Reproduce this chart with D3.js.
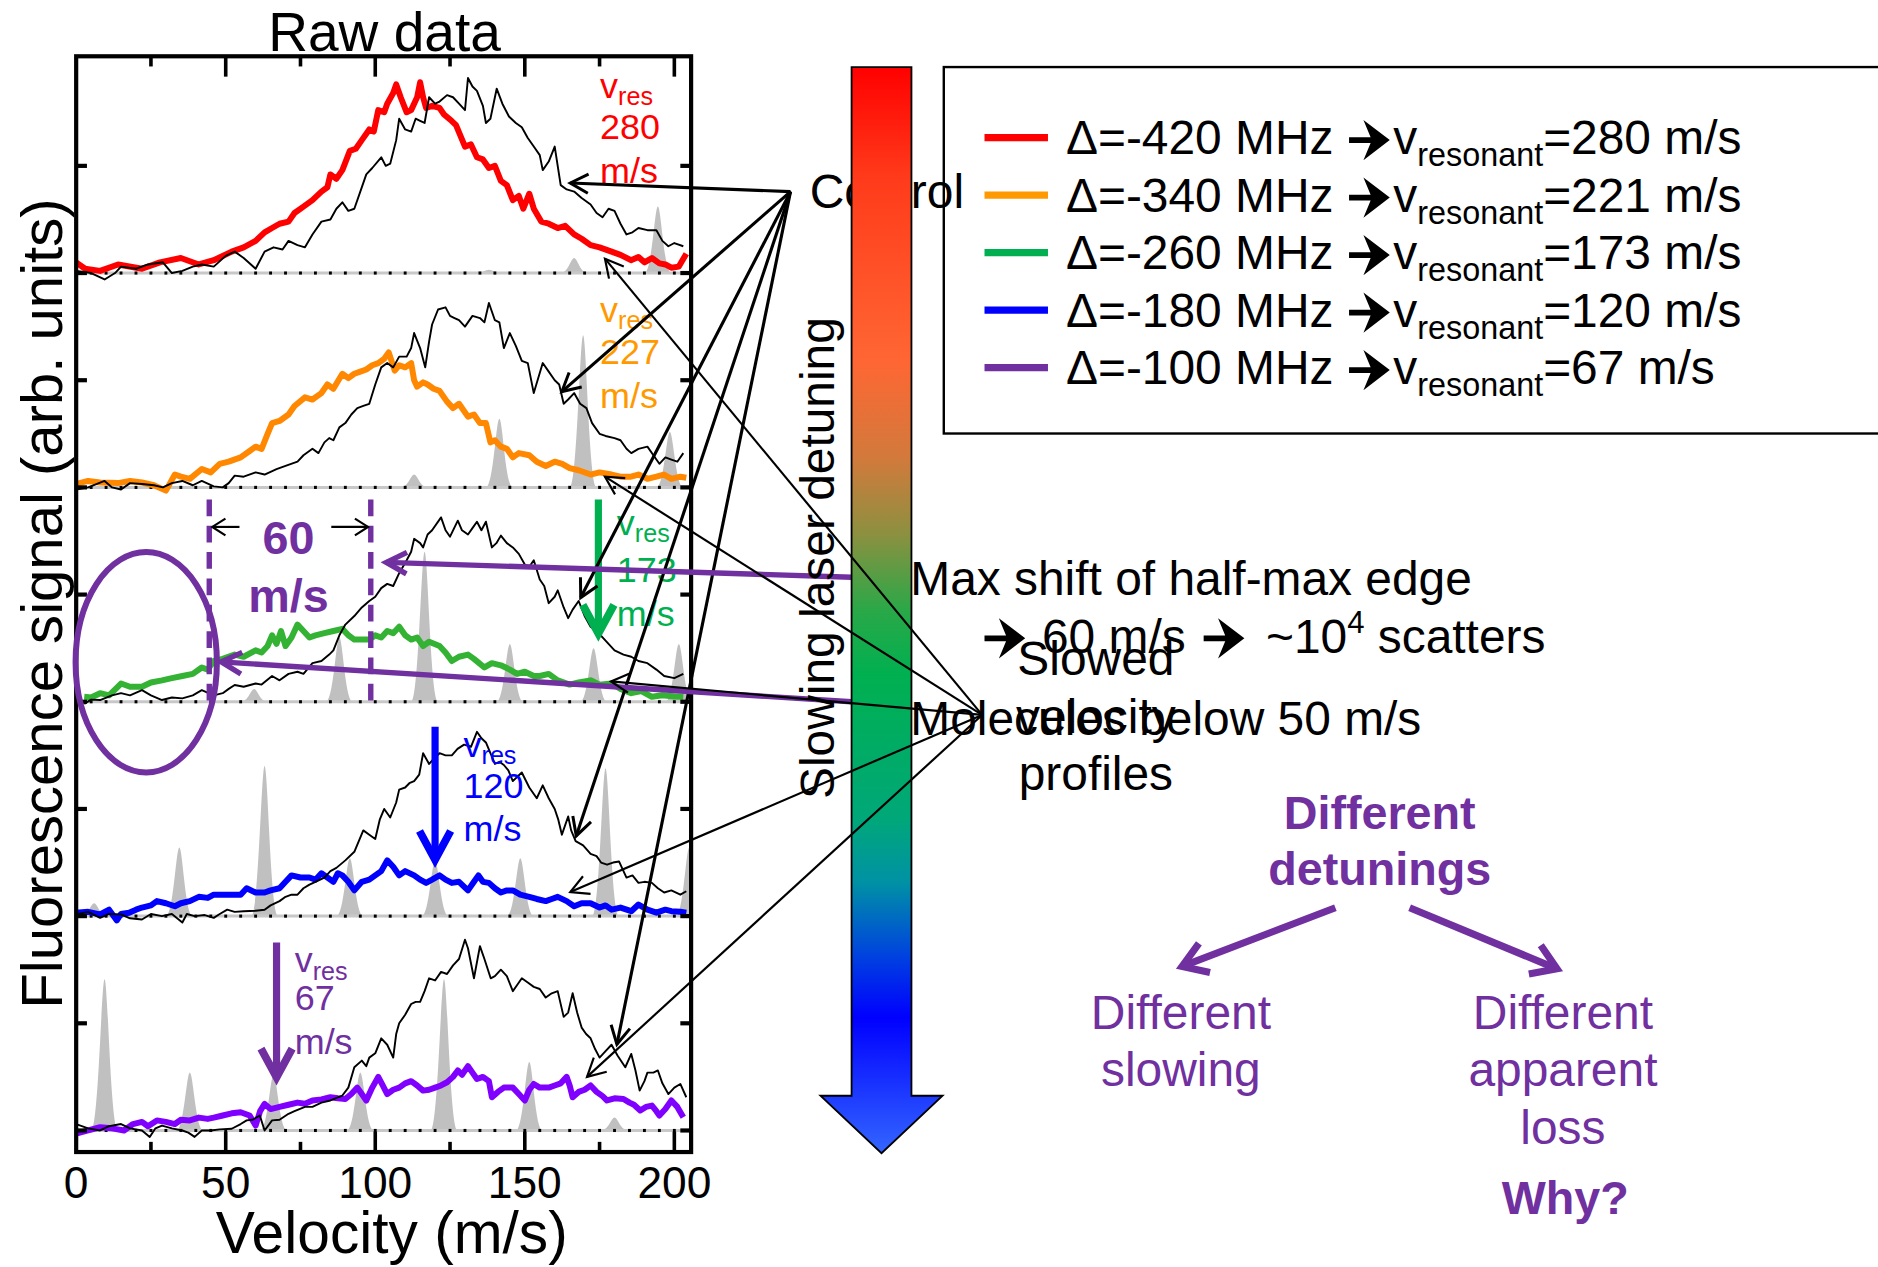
<!DOCTYPE html>
<html>
<head>
<meta charset="utf-8">
<script src="https://cdn.jsdelivr.net/npm/d3@7"></script>
<style>
  body { margin: 0; background: #fff; }
  svg { display: block; }
  text { font-family: "Liberation Sans", Arial, sans-serif; }
</style>
</head>
<body>
<div id="chart"></div>
<script>
// ---- data (velocity in m/s, signal as fraction of panel height) ----
const velTicks = [0, 50, 100, 150, 200];
const detunings = [-420, -340, -260, -180, -100];
const vResonant = [280, 221, 173, 120, 67];
const vResPanel = [280, 227, 173, 120, 67];

// slowed profiles (coloured) per panel
const slowed420 = [[0,0.05],[3,0.02],[8,0.01],[14,0.04],[22,0.02],[28,0.05],[35,0.07],[41,0.04],[46,0.06],[52,0.10],[56,0.12],[60,0.15],[63,0.19],[65.5,0.21],[68,0.23],[71,0.24],[73,0.28],[76,0.31],[79,0.34],[82,0.38],[84,0.40],[85,0.46],[87,0.44],[89,0.48],[91.5,0.57],[93.5,0.58],[95.5,0.62],[98,0.67],[99.5,0.66],[101,0.76],[103,0.75],[104,0.79],[106,0.84],[107,0.88],[108.5,0.82],[110.5,0.75],[112,0.76],[114,0.82],[115,0.89],[116,0.82],[117,0.77],[119,0.78],[121.5,0.77],[123,0.74],[125.5,0.71],[127,0.69],[128.5,0.64],[130,0.59],[132,0.60],[134,0.54],[136,0.53],[138,0.49],[140,0.50],[142,0.43],[144,0.41],[146,0.34],[148,0.36],[149.5,0.30],[151.5,0.37],[153,0.30],[155.5,0.24],[158,0.23],[161,0.21],[163.5,0.22],[166.5,0.18],[169,0.16],[172,0.13],[175,0.12],[179,0.10],[182,0.085],[185.5,0.06],[188,0.075],[190,0.05],[192.5,0.07],[195,0.045],[197,0.04],[199,0.025],[201.5,0.03],[204,0.09]];
const slowed340 = [[0,0.016],[4,0.03],[8,0.023],[14,0.02],[18,0.03],[22,0.023],[26,0.01],[30,-0.015],[33,0.06],[35,0.05],[38,0.04],[42,0.086],[45,0.07],[48,0.11],[51,0.12],[55,0.14],[58,0.17],[60,0.19],[62,0.18],[64,0.25],[65.5,0.30],[68,0.31],[71,0.34],[73,0.38],[76.5,0.42],[79,0.41],[82,0.44],[84,0.48],[86,0.46],[89,0.53],[91,0.51],[93,0.53],[95,0.54],[97,0.55],[99,0.57],[101,0.58],[103,0.60],[104.5,0.63],[106.5,0.545],[108,0.57],[110,0.56],[112,0.58],[113,0.50],[114,0.47],[116,0.49],[117.5,0.48],[119.5,0.46],[121.5,0.45],[124,0.40],[126,0.37],[128,0.39],[131,0.33],[133,0.34],[135,0.30],[137,0.30],[138.5,0.21],[140,0.22],[142,0.19],[144,0.18],[146,0.14],[148,0.16],[151.5,0.15],[154,0.12],[157,0.10],[160,0.12],[162.5,0.11],[165,0.09],[168,0.08],[172,0.06],[175,0.07],[179,0.06],[182,0.05],[185.5,0.05],[188,0.06],[191,0.04],[194,0.05],[196.5,0.06],[199,0.04],[202,0.05],[204,0.045]];
const slowed260 = [[2.7,0.023],[5,0.02],[8,0.04],[11,0.03],[15,0.085],[18,0.07],[22,0.07],[25,0.09],[28.7,0.10],[32,0.11],[35.5,0.12],[39,0.13],[42,0.16],[44,0.15],[46,0.19],[49,0.20],[53,0.22],[56,0.21],[60,0.24],[62,0.23],[64,0.26],[65.5,0.31],[67,0.27],[68.5,0.33],[70,0.26],[72,0.30],[74,0.36],[76,0.33],[78,0.30],[80,0.31],[83,0.32],[86,0.33],[89,0.34],[91,0.31],[93,0.29],[96,0.29],[98,0.29],[100,0.31],[102,0.30],[104,0.33],[106,0.32],[108,0.35],[110,0.31],[112,0.29],[114,0.30],[116,0.26],[118,0.28],[121.5,0.26],[123.5,0.23],[125.6,0.19],[128,0.21],[131,0.22],[133,0.20],[136.5,0.16],[139,0.18],[142,0.17],[145,0.15],[147.4,0.13],[150,0.14],[153,0.12],[155,0.12],[158,0.13],[161,0.10],[165,0.08],[168,0.09],[172,0.10],[175,0.08],[179,0.085],[182,0.06],[185.6,0.04],[189,0.05],[192.5,0.023],[196,0.03],[200,0.025],[203,0.023]];
const slowed180 = [[0,0.016],[4,0.02],[8,0.008],[11,0.03],[13.6,-0.02],[15,0.01],[17.7,0.016],[20,0.03],[22,0.04],[25,0.05],[27,0.07],[30,0.06],[33,0.046],[35,0.06],[38,0.07],[41,0.09],[44,0.085],[46,0.10],[49,0.10],[52,0.10],[55,0.10],[57,0.13],[60,0.11],[63,0.11],[65,0.12],[68,0.13],[70,0.16],[72,0.19],[75,0.18],[78,0.18],[80,0.17],[82,0.20],[84,0.18],[86,0.16],[87.5,0.20],[89,0.19],[91,0.16],[93,0.12],[95.5,0.16],[98,0.17],[100,0.19],[102,0.21],[104,0.26],[106,0.23],[108,0.19],[110,0.21],[113,0.19],[115,0.17],[117,0.155],[119,0.17],[121.5,0.19],[123.5,0.17],[125.6,0.155],[128,0.16],[131,0.12],[133,0.16],[134.5,0.19],[136,0.16],[138,0.155],[140,0.13],[142,0.11],[144,0.12],[146,0.12],[148.5,0.10],[151.5,0.09],[154,0.08],[157,0.07],[159,0.08],[161,0.09],[164,0.07],[166.5,0.046],[169,0.06],[172,0.06],[175,0.04],[177,0.05],[179,0.03],[182,0.04],[185.6,0.023],[188,0.054],[191,0.03],[194,0.016],[197,0.03],[199,0.023],[202,0.02],[204,0.016]];
const slowed100 = [[0,-0.015],[4,0.0],[8,0.015],[12,0.01],[16,0.0],[19,0.03],[22,0.04],[24,0.02],[27,0.047],[30,0.04],[33,0.03],[35,0.05],[38,0.047],[41,0.06],[44,0.054],[46,0.06],[49,0.07],[52,0.08],[55,0.085],[58,0.07],[60,0.023],[61.5,0.09],[63,0.124],[65,0.10],[68,0.11],[71,0.12],[74,0.13],[76.5,0.125],[79,0.14],[82,0.145],[85,0.155],[87.5,0.15],[90,0.147],[92,0.17],[94,0.20],[95.5,0.17],[97,0.14],[99,0.20],[101,0.25],[102.5,0.21],[104,0.17],[106,0.19],[108,0.20],[110,0.22],[112,0.23],[114,0.21],[116,0.186],[118,0.19],[120,0.20],[122,0.21],[124,0.225],[126,0.25],[127.6,0.28],[129,0.26],[131,0.30],[132.5,0.27],[134,0.24],[136,0.25],[138,0.23],[139,0.155],[141,0.18],[143,0.20],[146,0.20],[148,0.17],[150,0.14],[151.5,0.19],[153,0.217],[155,0.20],[158,0.20],[160,0.21],[162,0.22],[164,0.25],[165,0.21],[166,0.155],[168,0.18],[170,0.19],[172,0.21],[174,0.18],[176,0.16],[177.5,0.14],[180,0.15],[183,0.147],[185,0.13],[186.5,0.12],[188.6,0.093],[190.5,0.11],[192.5,0.116],[194,0.09],[195,0.07],[197,0.10],[199,0.14],[201,0.11],[203,0.062]];

// control profiles (thin black) per panel
const control1 = [[0,0.01],[5,0.0],[9.5,-0.03],[13,0.0],[15,0.03],[20,0.02],[24,0.04],[29,0.05],[32,0.0],[35.5,0.01],[39,0.03],[42,0.04],[46,0.03],[50,0.08],[53,0.10],[56,0.07],[60,0.02],[63,0.10],[66,0.12],[69,0.11],[71,0.15],[74,0.13],[76.5,0.12],[79,0.18],[82,0.24],[85,0.25],[87,0.30],[89,0.33],[91,0.29],[93,0.30],[95,0.38],[97,0.46],[99,0.49],[102,0.54],[103.5,0.50],[105,0.51],[107,0.62],[108,0.72],[110,0.67],[112,0.66],[113.5,0.72],[115,0.71],[116.5,0.70],[118,0.82],[120,0.79],[121.5,0.80],[124,0.83],[126,0.82],[128,0.79],[130,0.76],[131,0.91],[132.5,0.87],[134,0.85],[136,0.78],[137,0.70],[138.5,0.72],[140.6,0.86],[142.5,0.79],[144.7,0.73],[147,0.70],[149,0.68],[151,0.63],[153,0.59],[155,0.55],[156,0.48],[158,0.52],[160,0.59],[162,0.41],[164,0.39],[166.5,0.38],[169,0.35],[172,0.32],[174,0.28],[176,0.26],[178,0.30],[180,0.29],[182,0.23],[184,0.18],[186,0.19],[188,0.21],[191,0.20],[194,0.20],[196,0.15],[198,0.125],[200,0.14],[203,0.125]];
const control2 = [[0,-0.01],[4,0.0],[9.5,0.03],[12,0.0],[15,-0.01],[18,0.02],[22,0.016],[26,0.01],[29,0.0],[32,0.02],[35.5,0.03],[39,0.01],[42,0.03],[46,0.005],[49,0.0],[51,0.02],[53,0.055],[56,0.05],[60,0.07],[63,0.06],[67,0.085],[70,0.10],[74,0.12],[76,0.15],[79,0.18],[81,0.16],[83,0.21],[84.6,0.23],[86,0.22],[88,0.28],[90,0.30],[92,0.34],[94,0.37],[96,0.38],[98,0.39],[100,0.48],[102,0.56],[104,0.58],[106,0.56],[108,0.61],[110.5,0.61],[112,0.65],[113,0.72],[115,0.65],[116.7,0.56],[118,0.68],[119,0.76],[121,0.83],[123.5,0.84],[125,0.80],[126.5,0.79],[128,0.78],[130,0.75],[132.5,0.80],[135,0.79],[136.5,0.77],[138,0.86],[140,0.78],[141.5,0.77],[143,0.65],[145,0.72],[147,0.66],[149,0.59],[151,0.58],[153,0.44],[156,0.58],[158,0.54],[160,0.50],[161.5,0.48],[163,0.39],[164.5,0.41],[166.5,0.44],[168.5,0.39],[170.6,0.37],[172.5,0.30],[175,0.25],[177,0.24],[180,0.23],[182,0.22],[184,0.18],[185.6,0.16],[188,0.18],[191,0.19],[193,0.15],[195,0.11],[197,0.14],[199,0.13],[201,0.12],[203,0.16]];
const control3 = [[2.7,-0.01],[5,0.01],[8,0.008],[12,0.03],[15,0.04],[18,0.03],[22,0.054],[25,0.03],[28.7,0.008],[32,0.02],[35.5,0.016],[39,0.03],[42,0.054],[46,0.03],[49,0.04],[51,0.06],[53,0.078],[56,0.07],[60,0.085],[62,0.08],[65.5,0.12],[68,0.10],[71,0.13],[74,0.14],[76,0.13],[79,0.18],[82,0.19],[84.6,0.22],[86,0.24],[88,0.31],[90,0.36],[93,0.40],[95.5,0.44],[98,0.47],[100,0.49],[102,0.53],[104,0.55],[106,0.54],[108,0.60],[110.5,0.66],[112,0.70],[113,0.76],[115,0.74],[116,0.72],[117.5,0.78],[119,0.80],[122,0.86],[123.5,0.80],[125,0.77],[127.6,0.845],[129,0.80],[131,0.78],[132.5,0.81],[134,0.84],[135.5,0.80],[137,0.84],[139,0.72],[140.5,0.74],[142,0.775],[144,0.74],[146,0.72],[148,0.69],[150,0.64],[151.5,0.63],[153,0.66],[155,0.57],[156.5,0.54],[158,0.46],[160,0.49],[161,0.52],[163,0.44],[164.5,0.39],[166,0.43],[168,0.47],[170,0.40],[172,0.35],[174,0.33],[176,0.30],[178,0.27],[180,0.24],[183,0.22],[185.6,0.21],[188,0.19],[191,0.18],[194,0.15],[196.6,0.12],[200,0.11],[203,0.13]];
const control4 = [[0,0.008],[4,0.02],[8,-0.008],[11,0.01],[15,0.008],[18,-0.01],[22,-0.016],[25,0.01],[28.7,0.0],[32,0.01],[35.5,-0.03],[37,0.01],[39.6,0.0],[43,0.005],[46,-0.008],[48,0.01],[50.5,0.03],[53,0.02],[56,0.023],[60,0.025],[63,0.03],[65,0.05],[68,0.07],[70,0.09],[72,0.10],[74,0.10],[76,0.13],[78,0.147],[80,0.16],[83,0.18],[85,0.21],[87,0.225],[90,0.26],[93,0.30],[94.5,0.35],[96,0.40],[98,0.38],[100,0.36],[101.5,0.45],[103,0.50],[105,0.46],[107,0.53],[108,0.59],[110,0.60],[111.4,0.62],[113,0.63],[114.7,0.66],[116,0.76],[118,0.71],[120,0.74],[121.5,0.76],[123.5,0.75],[125.6,0.75],[127.5,0.78],[129.7,0.80],[132,0.79],[134,0.86],[135.5,0.83],[137,0.81],[138.5,0.76],[140,0.71],[141.5,0.72],[143,0.705],[144.5,0.68],[146,0.63],[147.5,0.65],[149,0.67],[151.5,0.60],[154,0.55],[156,0.61],[158,0.55],[160,0.50],[161.2,0.45],[162.4,0.38],[164.5,0.465],[165.5,0.40],[167,0.35],[169.5,0.33],[172,0.29],[174,0.28],[175.5,0.25],[177.5,0.24],[179.5,0.25],[181.5,0.255],[184,0.18],[186,0.19],[188,0.155],[190,0.16],[192.5,0.155],[194.5,0.13],[196.6,0.11],[199,0.12],[202,0.10],[204,0.116]];
const control5 = [[0,0.03],[4,0.01],[8,0.0],[11,0.02],[15,0.03],[18,0.01],[22,0.0],[24.6,-0.03],[26.5,0.01],[28.7,0.023],[32,0.01],[35.5,0.0],[37.5,-0.01],[39.6,-0.03],[42,0.0],[45,0.0],[48,0.005],[52,0.008],[55,0.03],[57,0.047],[59,0.05],[61.4,0.07],[63,0.0],[65.5,0.047],[68,0.05],[71,0.078],[73,0.09],[76.5,0.11],[79,0.11],[82,0.13],[85,0.14],[89,0.163],[91,0.20],[93,0.295],[95.5,0.326],[97,0.30],[98,0.34],[100,0.36],[102,0.43],[104,0.40],[106,0.34],[107,0.45],[108,0.50],[110,0.54],[112,0.59],[113.5,0.60],[115,0.60],[116.5,0.65],[118,0.71],[120,0.70],[122,0.74],[124,0.73],[126,0.77],[128,0.80],[130,0.89],[131,0.85],[133,0.71],[135,0.86],[136.5,0.80],[138.6,0.71],[140,0.72],[142,0.75],[144,0.72],[146,0.65],[147.5,0.68],[149,0.71],[151,0.69],[153,0.67],[155,0.66],[157,0.62],[159,0.64],[161,0.65],[163,0.53],[164.5,0.55],[166,0.64],[167.5,0.55],[169,0.48],[170.5,0.45],[172,0.43],[173.5,0.38],[175,0.34],[177,0.37],[179,0.40],[181,0.35],[183.6,0.295],[185.6,0.357],[187,0.28],[188.4,0.186],[190,0.23],[191,0.27],[193,0.27],[194.5,0.28],[196,0.22],[198,0.17],[200,0.20],[202,0.217],[204,0.155]];

// grey resonance peaks per panel: [centre velocity, height]
const peaks1 = [[138, 0.015], [166.5, 0.07], [194.5, 0.31]];
const peaks2 = [[113, 0.06], [141.5, 0.32], [169.5, 0.71], [198.5, 0.26]];
const peaks3 = [[59.5, 0.06], [88, 0.30], [116.5, 0.70], [145, 0.27], [173, 0.25], [201.5, 0.27]];
const peaks4 = [[6, 0.06], [34.5, 0.32], [63, 0.70], [91.5, 0.27], [120, 0.26], [148.5, 0.27], [177, 0.69], [205, 0.32]];
const peaks5 = [[9.5, 0.705], [38, 0.27], [66, 0.26], [95, 0.27], [123, 0.705], [151.5, 0.32], [180, 0.06]];

// ---- layout ----
const W = 1568, H = 1058;
const svg = d3.select('#chart').append('svg')
  .attr('width', 1878).attr('height', 1267)
  .attr('viewBox', `0 0 ${W} ${H}`);

const frame = { left: 63.5, right: 577, top: 47, bottom: 962 };
const baselines = [228, 407, 586, 765, 944];
const panelH = 179;
const purple = '#7030a0';

const x = d3.scaleLinear().domain([0, 200]).range([63.5, 563]);
const yPanel = baselines.map(b => d3.scaleLinear().domain([0, 1]).range([b, b - panelH]));

const panels = [
  { slowed: slowed420, control: control1, peaks: peaks1, color: '#ff0000', label: '#ff0000' },
  { slowed: slowed340, control: control2, peaks: peaks2, color: '#ff8800', label: '#ff9900' },
  { slowed: slowed260, control: control3, peaks: peaks3, color: '#33b233', label: '#00b050' },
  { slowed: slowed180, control: control4, peaks: peaks4, color: '#0000ff', label: '#0000ff' },
  { slowed: slowed100, control: control5, peaks: peaks5, color: '#8000ff', label: purple }
];
const legendColors = ['#ff0000', '#ff9900', '#00b050', '#0000ff', purple];

// markers
const defs = svg.append('defs');
function marker(id, color, len, half, sw) {
  defs.append('marker')
    .attr('id', id)
    .attr('viewBox', `${-len - 10} ${-half - 10} ${len + 20} ${2 * half + 20}`)
    .attr('markerWidth', len + 20).attr('markerHeight', 2 * half + 20)
    .attr('refX', 0).attr('refY', 0)
    .attr('markerUnits', 'userSpaceOnUse')
    .attr('orient', 'auto')
    .append('path')
    .attr('d', `M${-len},${-half} L0,0 L${-len},${half}`)
    .attr('fill', 'none').attr('stroke', color)
    .attr('stroke-width', sw).attr('stroke-linejoin', 'miter');
}
marker('hCtrl', '#000', 15, 8, 2.5);
marker('hThin', '#000', 15, 8, 1.8);
marker('hSmall', '#000', 11, 7, 1.8);
marker('hPurple', purple, 17, 9, 4.5);
marker('hPurpleBig', purple, 20, 13, 6);
panels.forEach((p, i) => marker('hV' + i, p.label, 24, 13, 6.5));

defs.append('clipPath').attr('id', 'plotClip')
  .append('rect')
  .attr('x', frame.left).attr('y', frame.top)
  .attr('width', frame.right - frame.left).attr('height', frame.bottom - frame.top);

// heavy right arrow glyph (like the Wingdings arrow in the labels)
function heavyArrow(sel, x0, yBase, s) {
  sel.append('path')
    .attr('d', `M${x0},${yBase - 0.36 * s} L${x0 + 0.45 * s},${yBase - 0.36 * s} L${x0 + 0.3 * s},${yBase - 0.72 * s}` +
      ` L${x0 + 0.85 * s},${yBase - 0.3 * s} L${x0 + 0.3 * s},${yBase + 0.12 * s} L${x0 + 0.45 * s},${yBase - 0.24 * s}` +
      ` L${x0},${yBase - 0.24 * s} Z`)
    .attr('fill', '#000');
}

// ---- panels ----
const plot = svg.append('g').attr('clip-path', 'url(#plotClip)');

function peakPath(c, h, y) {
  const y0 = y(0), yt = y(h);
  return `M${x(c - 4.5)},${y0} C${x(c - 2)},${y0} ${x(c - 1.1)},${yt} ${x(c)},${yt}` +
    ` C${x(c + 1.1)},${yt} ${x(c + 2)},${y0} ${x(c + 4.5)},${y0} Z`;
}

panels.forEach((p, i) => {
  const y = yPanel[i];
  const g = plot.append('g');

  g.selectAll('path.peak').data(p.peaks).enter()
    .append('path').attr('class', 'peak')
    .attr('d', d => peakPath(d[0], d[1], y))
    .attr('fill', '#c0c0c0');

  // zero line: grey with black dots
  g.append('line')
    .attr('x1', frame.left).attr('x2', frame.right)
    .attr('y1', y(0)).attr('y2', y(0))
    .attr('stroke', '#c8c8c8').attr('stroke-width', 2.5);
  g.selectAll('rect.dot').data(d3.range(5, 206, 5)).enter()
    .append('rect').attr('class', 'dot')
    .attr('x', d => x(d) - 1.2).attr('y', y(0) - 1.3)
    .attr('width', 2.4).attr('height', 2.6)
    .attr('fill', '#000');

  const line = d3.line().x(d => x(d[0])).y(d => y(d[1]));
  g.append('path').datum(p.slowed)
    .attr('d', line).attr('fill', 'none')
    .attr('stroke', p.color).attr('stroke-width', 5)
    .attr('stroke-linejoin', 'round');
  g.append('path').datum(p.control)
    .attr('d', line).attr('fill', 'none')
    .attr('stroke', '#000').attr('stroke-width', 1.6)
    .attr('stroke-linejoin', 'round');
});

// ---- frame & ticks ----
const axes = svg.append('g').attr('stroke', '#000');
axes.append('rect')
  .attr('x', frame.left).attr('y', frame.top)
  .attr('width', frame.right - frame.left).attr('height', frame.bottom - frame.top)
  .attr('fill', 'none').attr('stroke-width', 3.5);

const xTickVals = d3.range(25, 201, 25);
axes.selectAll('line.xt').data(xTickVals).enter().append('line').attr('class', 'xt')
  .attr('x1', d => x(d)).attr('x2', d => x(d))
  .attr('y1', frame.bottom).attr('y2', d => frame.bottom - (d % 50 === 0 ? 17 : 8.5))
  .attr('stroke-width', 3);
axes.selectAll('line.xtt').data(xTickVals).enter().append('line').attr('class', 'xtt')
  .attr('x1', d => x(d)).attr('x2', d => x(d))
  .attr('y1', frame.top).attr('y2', d => frame.top + (d % 50 === 0 ? 17 : 8.5))
  .attr('stroke-width', 3);

const yTickPos = [];
yPanel.forEach(y => { yTickPos.push(y(0)); yTickPos.push(y(0.5)); });
axes.selectAll('line.yl').data(yTickPos).enter().append('line').attr('class', 'yl')
  .attr('x1', frame.left).attr('x2', frame.left + 9)
  .attr('y1', d => d).attr('y2', d => d).attr('stroke-width', 3.5);
axes.selectAll('line.yr').data(yTickPos).enter().append('line').attr('class', 'yr')
  .attr('x1', frame.right).attr('x2', frame.right - 9)
  .attr('y1', d => d).attr('y2', d => d).attr('stroke-width', 3.5);

svg.selectAll('text.xl').data(velTicks).enter().append('text').attr('class', 'xl')
  .attr('x', d => x(d)).attr('y', 1000)
  .attr('text-anchor', 'middle').attr('font-size', 37)
  .text(d => d);

svg.append('text').attr('x', 327).attr('y', 1046)
  .attr('text-anchor', 'middle').attr('font-size', 49)
  .text('Velocity (m/s)');

svg.append('text').attr('transform', 'translate(52,504) rotate(-90)')
  .attr('text-anchor', 'middle').attr('font-size', 48.5)
  .text('Fluorescence signal (arb. units)');

svg.append('text').attr('x', 321).attr('y', 43)
  .attr('text-anchor', 'middle').attr('font-size', 46)
  .text('Raw data');

// ---- panel annotations ----
const ann = svg.append('g');
const y3 = yPanel[2];

// half-max edge markers (60 m/s shift)
[44.5, 98.5].forEach(v => {
  ann.append('line')
    .attr('x1', x(v)).attr('x2', x(v))
    .attr('y1', y3(0.944)).attr('y2', y3(-0.01))
    .attr('stroke', purple).attr('stroke-width', 4.5)
    .attr('stroke-dasharray', '14 8');
});
ann.append('line').attr('x1', x(54.6)).attr('x2', x(45.5))
  .attr('y1', 440).attr('y2', 440)
  .attr('stroke', '#000').attr('stroke-width', 1.8).attr('marker-end', 'url(#hSmall)');
ann.append('line').attr('x1', x(85.3)).attr('x2', x(97.6))
  .attr('y1', 440).attr('y2', 440)
  .attr('stroke', '#000').attr('stroke-width', 1.8).attr('marker-end', 'url(#hSmall)');
ann.append('text').attr('x', x(71)).attr('y', 463)
  .attr('text-anchor', 'middle').attr('font-size', 39).attr('font-weight', 'bold')
  .attr('fill', purple).text('60');
ann.append('text').attr('x', x(71)).attr('y', 511)
  .attr('text-anchor', 'middle').attr('font-size', 39).attr('font-weight', 'bold')
  .attr('fill', purple).text('m/s');

ann.append('ellipse')
  .attr('cx', 122).attr('cy', 553).attr('rx', 59).attr('ry', 92)
  .attr('fill', 'none').attr('stroke', purple).attr('stroke-width', 5);

// v_res arrows (only where v_res is on scale)
const arrowSpan = [null, null, [0.944, 0.318], [0.883, 0.263], [0.877, 0.248]];
arrowSpan.forEach((s, i) => {
  if (!s) return;
  const y = yPanel[i];
  ann.append('line')
    .attr('x1', x(vResPanel[i]) + (i === 2 ? 4 : 0)).attr('x2', x(vResPanel[i]) + (i === 2 ? 4 : 0))
    .attr('y1', y(s[0])).attr('y2', y(s[1]))
    .attr('stroke', panels[i].label).attr('stroke-width', 6)
    .attr('marker-end', `url(#hV${i})`);
});

// v_res labels: x position and baselines of the three lines
const vLabelPos = [
  [501, [82, 116, 153]],
  [501, [269, 304, 341]],
  [515, [447, 486, 523]],
  [387, [632, 666, 702]],
  [246, [812, 843, 880]]
];
vLabelPos.forEach((d, i) => {
  const c = panels[i].label;
  const t = ann.append('text').attr('x', d[0]).attr('y', d[1][0]).attr('font-size', 30).attr('fill', c);
  t.append('tspan').text('v');
  t.append('tspan').attr('font-size', 21).attr('dy', 6).text('res');
  ann.append('text').attr('x', d[0]).attr('y', d[1][1]).attr('font-size', 30).attr('fill', c).text(vResPanel[i]);
  ann.append('text').attr('x', d[0]).attr('y', d[1][2]).attr('font-size', 30).attr('fill', c).text('m/s');
});

// ---- "Control" pointers ----
const controlTips = [[165.2, 0.42], [162.4, 0.447], [168.7, 0.486], [167.2, 0.374], [180.8, 0.402]];
const ctrlOrigin = [660, 160];
svg.append('text').attr('x', 676).attr('y', 174).attr('font-size', 40).text('Control');
controlTips.forEach((d, i) => {
  svg.append('line')
    .attr('x1', ctrlOrigin[0]).attr('y1', ctrlOrigin[1])
    .attr('x2', x(d[0])).attr('y2', yPanel[i](d[1]))
    .attr('stroke', '#000').attr('stroke-width', 2.6)
    .attr('marker-end', 'url(#hCtrl)');
});

// purple pointers from the half-max text
svg.append('line').attr('x1', 711).attr('y1', 482)
  .attr('x2', x(103.7)).attr('y2', y3(0.65))
  .attr('stroke', purple).attr('stroke-width', 4.5).attr('marker-end', 'url(#hPurple)');
svg.append('line').attr('x1', 711).attr('y1', 586)
  .attr('x2', x(48.5)).attr('y2', y3(0.186))
  .attr('stroke', purple).attr('stroke-width', 4.5).attr('marker-end', 'url(#hPurple)');

// ---- detuning colour arrow ----
const grad = defs.append('linearGradient').attr('id', 'detGrad')
  .attr('gradientUnits', 'userSpaceOnUse')
  .attr('x1', 0).attr('y1', 56).attr('x2', 0).attr('y2', 963);
[[0, '#ff0000'], [0.1, '#ff3a1a'], [0.27, '#ff6633'], [0.36, '#d27a3c'], [0.43, '#8c9040'],
 [0.5, '#2aa848'], [0.56, '#00b050'], [0.69, '#00a878'], [0.75, '#0092a4'], [0.82, '#0040e0'],
 [0.875, '#0000ff'], [1, '#3366ff']].forEach(s => {
  grad.append('stop').attr('offset', s[0]).attr('stop-color', s[1]);
});
svg.append('path')
  .attr('d', 'M711,56 L761,56 L761,915 L787,915 L736,963 L685,915 L711,915 Z')
  .attr('fill', 'url(#detGrad)').attr('stroke', '#000').attr('stroke-width', 1.5);

svg.append('text').attr('transform', 'translate(696,466) rotate(-90)')
  .attr('text-anchor', 'middle').attr('font-size', 40)
  .text('Slowing laser detuning');

// ---- "Slowed velocity profiles" pointers ----
const slowTips = [[176.8, 0.067], [176.8, 0.05], [178.8, 0.095], [165.2, 0.112], [170.8, 0.25]];
const slowOrigin = [820, 597];
slowTips.forEach((d, i) => {
  svg.append('line')
    .attr('x1', slowOrigin[0]).attr('y1', slowOrigin[1])
    .attr('x2', x(d[0])).attr('y2', yPanel[i](d[1]))
    .attr('stroke', '#000').attr('stroke-width', 1.8)
    .attr('marker-end', 'url(#hThin)');
});

// ---- text block ----
svg.append('text').attr('x', 760).attr('y', 497).attr('font-size', 40).text('Max shift of half-max edge');
heavyArrow(svg, 822, 545, 40);
heavyArrow(svg, 1005, 545, 40);
const t2 = svg.append('text').attr('x', 870).attr('y', 545).attr('font-size', 40);
t2.append('tspan').text('60 m/s');
t2.append('tspan').attr('x', 1057).text('~10');
t2.append('tspan').attr('font-size', 26).attr('dy', -16).text('4');
t2.append('tspan').attr('dy', 16).text(' scatters');
svg.append('text').attr('x', 760).attr('y', 614).attr('font-size', 40).text('Molecules below 50 m/s');

[['Slowed', 564], ['velocity', 612], ['profiles', 660]].forEach(d => {
  svg.append('text').attr('x', 915).attr('y', d[1])
    .attr('text-anchor', 'middle').attr('font-size', 40).text(d[0]);
});

// ---- legend ----
const lg = svg.append('g');
lg.append('rect').attr('x', 788).attr('y', 56).attr('width', 800).attr('height', 306)
  .attr('fill', 'none').attr('stroke', '#000').attr('stroke-width', 2);
detunings.forEach((det, i) => {
  const yy = 115 + i * 48;
  lg.append('line').attr('x1', 822).attr('x2', 875).attr('y1', yy).attr('y2', yy)
    .attr('stroke', legendColors[i]).attr('stroke-width', 6);
  const head = lg.append('text').attr('x', 890).attr('y', yy + 14).attr('font-size', 40)
    .text(`Δ=${det} MHz`);
  const hx = 890 + head.node().getComputedTextLength() + 13;
  heavyArrow(lg, hx, yy + 14, 40);
  const t = lg.append('text').attr('x', hx + 37).attr('y', yy + 14).attr('font-size', 40);
  t.append('tspan').text('v');
  t.append('tspan').attr('font-size', 27).attr('dy', 10).text('resonant');
  t.append('tspan').attr('dy', -10).text(`=${vResonant[i]} m/s`);
});

// ---- conclusions ----
const conc = svg.append('g').attr('fill', purple).attr('text-anchor', 'middle');
[['Different', 1152, 692, true], ['detunings', 1152, 739, true],
 ['Different', 986, 859, false], ['slowing', 986, 907, false],
 ['Different', 1305, 859, false], ['apparent', 1305, 907, false], ['loss', 1305, 955, false],
 ['Why?', 1307, 1014, true]].forEach(d => {
  conc.append('text').attr('x', d[1]).attr('y', d[2])
    .attr('font-size', d[3] ? 39 : 40)
    .attr('font-weight', d[3] ? 'bold' : 'normal')
    .text(d[0]);
});
svg.append('line').attr('x1', 1115).attr('y1', 758).attr('x2', 987).attr('y2', 807)
  .attr('stroke', purple).attr('stroke-width', 6).attr('marker-end', 'url(#hPurpleBig)');
svg.append('line').attr('x1', 1177).attr('y1', 758).attr('x2', 1300).attr('y2', 809)
  .attr('stroke', purple).attr('stroke-width', 6).attr('marker-end', 'url(#hPurpleBig)');
</script>
</body>
</html>
